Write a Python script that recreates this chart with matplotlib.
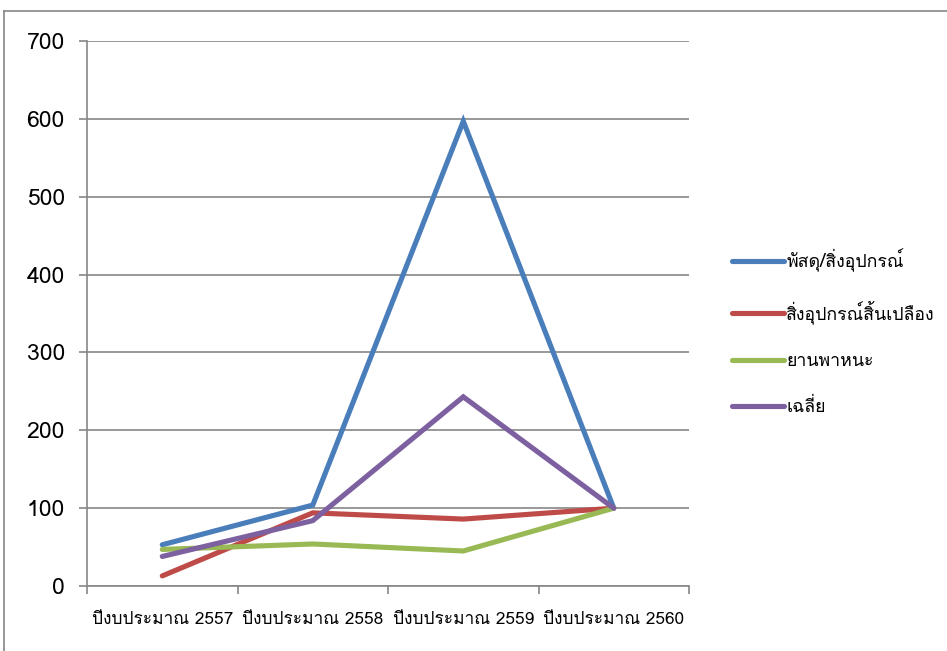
import matplotlib
matplotlib.use('Agg')
import matplotlib.pyplot as plt
from matplotlib import font_manager
from matplotlib.ft2font import FT2Font
from matplotlib.lines import Line2D

# find an installed family that has Thai glyphs
thai_fams = []
for f in font_manager.fontManager.ttflist:
    try:
        if 0x0E1B in FT2Font(f.fname).get_charmap() and f.name not in thai_fams:
            thai_fams.append(f.name)
    except Exception:
        pass
plt.rcParams['font.family'] = thai_fams + ['DejaVu Sans']

years = ['ปีงบประมาณ 2557', 'ปีงบประมาณ 2558', 'ปีงบประมาณ 2559', 'ปีงบประมาณ 2560']
materials = [53, 104, 597, 100]
supplies = [13, 94, 86, 100]
vehicles = [47, 54, 45, 100]
average = [38, 84, 243, 100]

names = ['พัสดุ/สิ่งอุปกรณ์', 'สิ่งอุปกรณ์สิ้นเปลือง', 'ยานพาหนะ', 'เฉลี่ย']
colors = ['#4A7EBB', '#BE4B48', '#98B954', '#7D60A0']

fig = plt.figure(figsize=(9.47, 6.51), dpi=100)
ax = fig.add_axes([0.0919, 0.0998, 0.6357, 0.8372])

x = range(len(years))
for vals, name, c in zip([materials, supplies, vehicles, average], names, colors):
    ax.plot(x, vals, color=c, lw=3.7, label=name, solid_capstyle='round', solid_joinstyle='miter')

ax.set_xlim(-0.5, 3.5)
ax.set_ylim(0, 700)
ax.set_yticks(range(0, 701, 100))
ax.yaxis.grid(True, color='#868686', lw=1.2)
ax.set_axisbelow(True)
ax.set_xticks([i - 0.5 for i in range(5)], minor=False)
ax.set_xticklabels([])
ax.set_xticks(list(x), minor=True)
ax.set_xticklabels(years, minor=True, fontsize=12.4)
ax.tick_params(axis='x', which='minor', length=0, pad=19)
ax.tick_params(axis='x', which='major', length=6, color='#868686', width=1.2)
ax.tick_params(axis='y', length=6, color='#868686', width=1.2, labelsize=16.5, pad=10)
for s in ['top', 'right']:
    ax.spines[s].set_visible(False)
for s in ['left', 'bottom']:
    ax.spines[s].set_color('#868686')
    ax.spines[s].set_linewidth(1.2)

ax.legend(loc='center left', bbox_to_anchor=(1.045, 0.465), frameon=False, fontsize=12.8,
          handlelength=2.9, handletextpad=0.15, labelspacing=1.58)

# outer chart border
fig.add_artist(Line2D([4/947, 1], [1 - 11/651] * 2, color='#868686', lw=1.2))
fig.add_artist(Line2D([4/947] * 2, [0, 1 - 11/651], color='#868686', lw=1.2))

fig.savefig('out.png', dpi=100)
